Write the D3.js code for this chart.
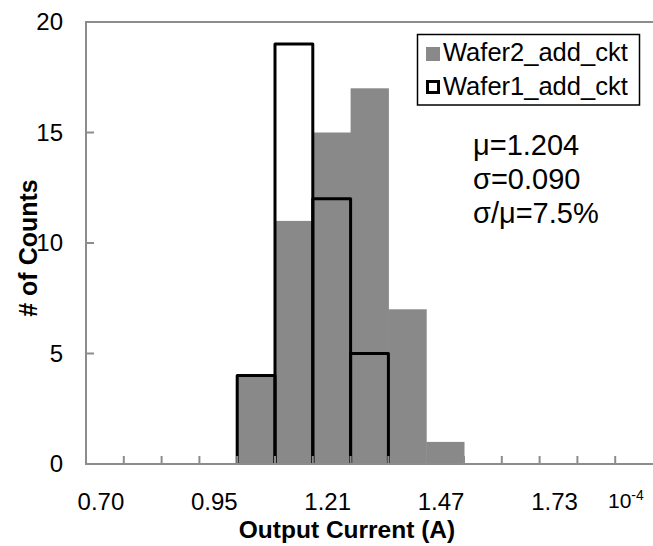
<!DOCTYPE html>
<html>
<head>
<meta charset="utf-8">
<script src="https://cdn.jsdelivr.net/npm/d3@7"></script>
<style>
  body { margin: 0; background: #fff; }
  svg text { font-family: "Liberation Sans", Arial, sans-serif; fill: #000; }
</style>
</head>
<body>
<script>
// histogram bins (category axis, 15 bins)
let binIdx = d3.range(15);
let tickLabels = ["0.70", "0.95", "1.21", "1.47", "1.73"];
let tickBins = [0, 3, 6, 9, 12];
let wafer2 = [0, 0, 0, 0, 4, 11, 15, 17, 7, 1, 0, 0, 0, 0, 0];
let wafer1 = [0, 0, 0, 0, 4, 19, 12, 5, 0, 0, 0, 0, 0, 0, 0];
let yTicks = [0, 5, 10, 15, 20];
let seriesNames = ["Wafer2_add_ckt", "Wafer1_add_ckt"];
let stats = ["\u03bc=1.204", "\u03c3=0.090", "\u03c3/\u03bc=7.5%"];

var W = 653, H = 546;
var margin = {top: 22, right: 0, bottom: 82, left: 86};
var axisCol = '#8c8c8c', barCol = '#898989';

var svg = d3.select('body')
    .append('svg')
    .attr('width', W)
    .attr('height', H);

var xScale = d3.scaleBand()
    .domain(binIdx)
    .range([margin.left, W])
    .padding(0);

var yScale = d3.scaleLinear()
    .domain([0, 20])
    .range([H - margin.bottom, margin.top]);

var y0 = yScale(0);

// gray filled bars (Wafer2)
var w2data = wafer2.map((v, i) => ({i: i, v: v})).filter(d => d.v > 0);
svg.selectAll('.w2')
    .data(w2data)
    .enter().append('rect')
    .attr('class', 'w2')
    .attr('x', d => xScale(d.i))
    .attr('y', d => yScale(d.v))
    .attr('width', xScale.bandwidth() + 0.5)
    .attr('height', d => y0 - yScale(d.v))
    .style('fill', barCol);

// frame: left, top and bottom
svg.append('path')
    .attr('d', 'M' + W + ',' + margin.top + 'H' + margin.left + 'V' + y0 + 'H' + W)
    .style('fill', 'none')
    .style('stroke', axisCol)
    .style('stroke-width', 2);

// outline bars (Wafer1), open at the bottom
var w1data = wafer1.map((v, i) => ({i: i, v: v})).filter(d => d.v > 0);
svg.selectAll('.w1')
    .data(w1data)
    .enter().append('path')
    .attr('class', 'w1')
    .attr('d', d => {
        let x0 = xScale(d.i), x1 = x0 + xScale.bandwidth(), yt = yScale(d.v);
        return 'M' + x0 + ',' + (y0 - 1) + 'V' + yt + 'H' + x1 + 'V' + (y0 - 1);
    })
    .style('fill', 'none')
    .style('stroke', '#000')
    .style('stroke-width', 3)
    .style('stroke-linejoin', 'round');

// x minor ticks at bin boundaries
svg.selectAll('.xtick')
    .data(binIdx.slice(1))
    .enter().append('line')
    .attr('class', 'xtick')
    .attr('x1', d => xScale(d))
    .attr('x2', d => xScale(d))
    .attr('y1', y0)
    .attr('y2', y0 - 8)
    .style('stroke', axisCol)
    .style('stroke-width', 2);

svg.selectAll('.xlab')
    .data(tickLabels)
    .enter().append('text')
    .attr('class', 'xlab')
    .attr('x', (d, i) => xScale(tickBins[i]) + xScale.bandwidth() / 2 - 4)
    .attr('y', 510)
    .attr('text-anchor', 'middle')
    .style('font-size', '24px')
    .text(d => d);

// 10^-4 annotation
var expo = svg.append('text')
    .attr('x', 608)
    .attr('y', 508)
    .style('font-size', '21px');
expo.append('tspan').text('10');
expo.append('tspan').attr('dy', -8).style('font-size', '14px').text('-4');

// y ticks
svg.selectAll('.ytick')
    .data(yTicks.slice(1, -1))
    .enter().append('line')
    .attr('class', 'ytick')
    .attr('x1', margin.left)
    .attr('x2', margin.left + 8)
    .attr('y1', d => yScale(d))
    .attr('y2', d => yScale(d))
    .style('stroke', axisCol)
    .style('stroke-width', 2);

svg.selectAll('.ylab')
    .data(yTicks)
    .enter().append('text')
    .attr('class', 'ylab')
    .attr('x', 63)
    .attr('y', d => yScale(d))
    .attr('dy', '0.35em')
    .attr('text-anchor', 'end')
    .style('font-size', '24px')
    .text(d => d);

// axis titles
svg.append('text')
    .attr('x', 347)
    .attr('y', 538)
    .attr('text-anchor', 'middle')
    .style('font-size', '24.5px')
    .style('font-weight', 'bold')
    .text('Output Current (A)');

svg.append('text')
    .attr('transform', 'translate(37,' + 248 + ') rotate(-90)')
    .attr('text-anchor', 'middle')
    .style('font-size', '25px')
    .style('font-weight', 'bold')
    .text('# of Counts');

// legend
var lg = svg.append('g');
lg.append('rect')
    .attr('x', 417.5).attr('y', 34.5)
    .attr('width', 222).attr('height', 70.5)
    .style('fill', '#fff')
    .style('stroke', '#000')
    .style('stroke-width', 1.5);
lg.append('rect')
    .attr('x', 426).attr('y', 47)
    .attr('width', 14).attr('height', 14)
    .style('fill', barCol);
lg.append('rect')
    .attr('x', 427.5).attr('y', 81.5)
    .attr('width', 11).attr('height', 11)
    .style('fill', '#fff')
    .style('stroke', '#000')
    .style('stroke-width', 3);
lg.selectAll('.lgt')
    .data(seriesNames)
    .enter().append('text')
    .attr('class', 'lgt')
    .attr('x', 443)
    .attr('y', (d, i) => 61 + i * 33.5)
    .style('font-size', '25.5px')
    .text(d => d);

// stats
svg.selectAll('.stat')
    .data(stats)
    .enter().append('text')
    .attr('class', 'stat')
    .attr('x', 473)
    .attr('y', (d, i) => 155 + i * 34)
    .style('font-size', '29px')
    .text(d => d);
</script>
</body>
</html>
